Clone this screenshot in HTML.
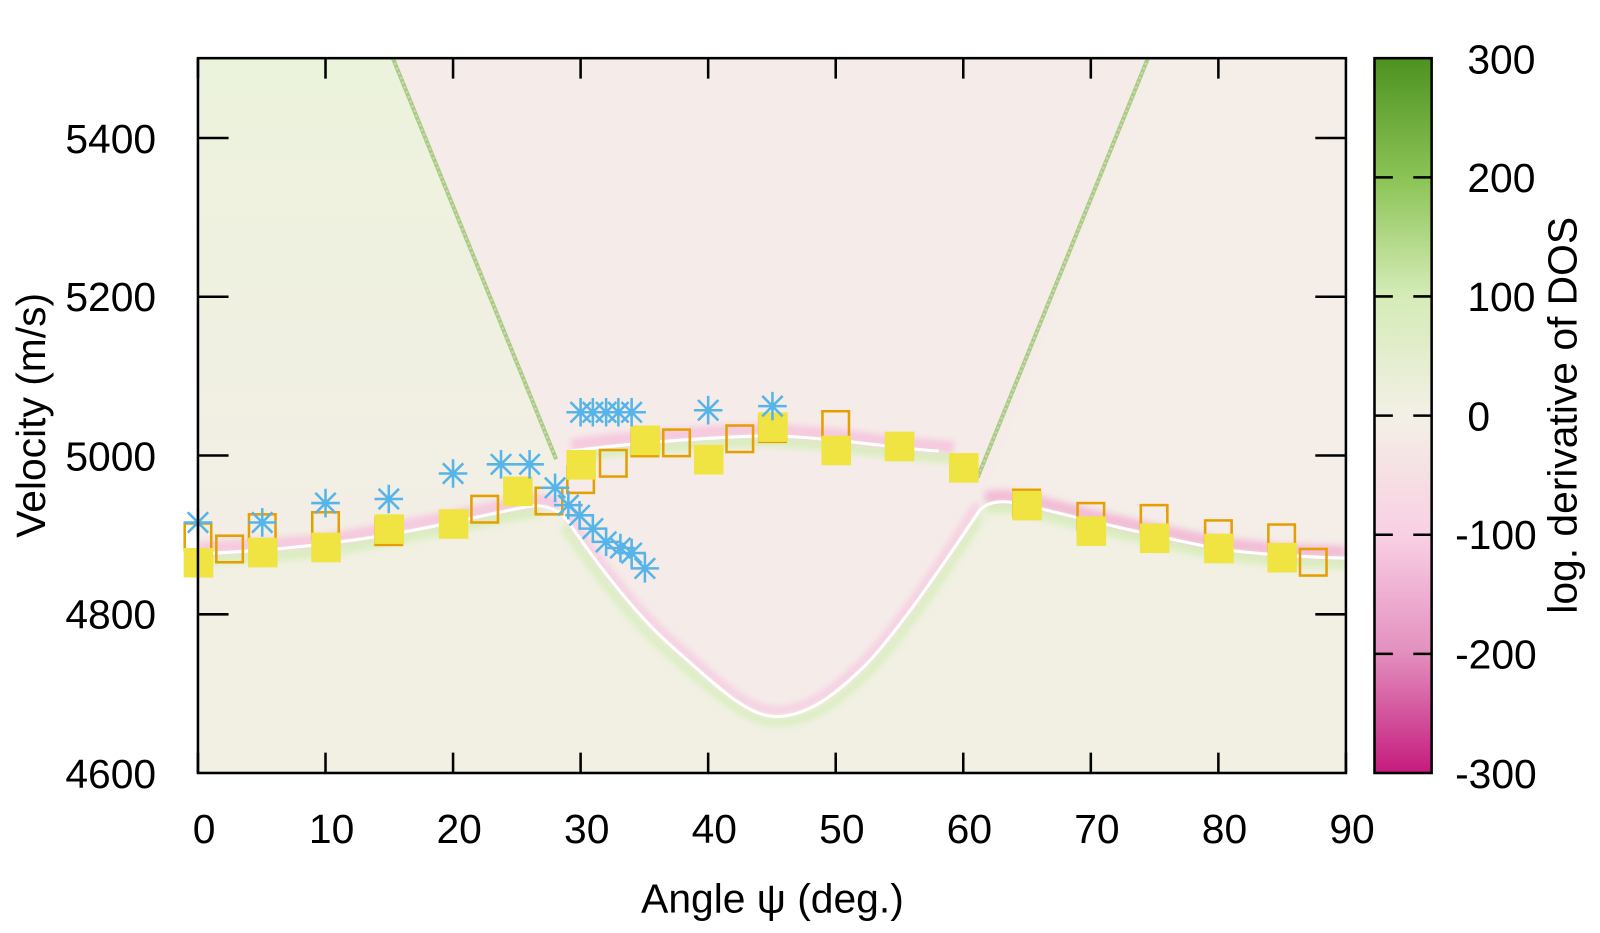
<!DOCTYPE html>
<html><head><meta charset="utf-8"><style>
html,body{margin:0;padding:0;background:#fff;}
svg{display:block;}
text{font-family:"Liberation Sans",Arial,sans-serif;fill:#000;}
</style></head><body>
<svg width="1600" height="933" viewBox="0 0 1568 914.3" preserveAspectRatio="none" xmlns="http://www.w3.org/2000/svg">
<defs>
<linearGradient id="cb" x1="0" y1="0" x2="0" y2="1">
<stop offset="0" stop-color="#4d9221"/>
<stop offset="0.17" stop-color="#8cc456"/>
<stop offset="0.33" stop-color="#d4ebb6"/>
<stop offset="0.5" stop-color="#f3f0e6"/>
<stop offset="0.67" stop-color="#f9cfe3"/>
<stop offset="0.83" stop-color="#e390bf"/>
<stop offset="1" stop-color="#c51b7d"/>
</linearGradient>
<linearGradient id="tl" x1="0" y1="0" x2="0" y2="1">
<stop offset="0" stop-color="#ecf3dc"/>
<stop offset="1" stop-color="#f3eee6"/>
</linearGradient>
<clipPath id="pc"><rect x="194" y="57" width="1125" height="700.5"/></clipPath>
<filter id="bl"><feGaussianBlur stdDeviation="3"/></filter>
</defs>
<g clip-path="url(#pc)">
<rect x="194" y="57" width="1125" height="700.5" fill="#f1f0e3"/>
<path d="M194,57 L385,57 L545,450 L530,496 L507,499 L444,512 L381,524 L319,535 L257,540 L194,543 Z" fill="url(#tl)"/>
<path d="M1125,57 L1319,57 L1319,547 L1256,545 L1194,538 L1131,525 L1069,511 L1006,495 L985,492 L960,500 Z" fill="#f4ede8"/>
<path d="M385,57 L1125,57 L960,500 C920,560 880,618 850,650 C820,680 790,704 757,702 C730,700 700,670 660,635 C620,600 580,545 556,510 L545,450 Z" fill="#f5ece9"/>
<g filter="url(#bl)">
<path d="M194,537 L257,534 L319,529 L381,518 L444,506 L507,493 L530,490 L548,494" stroke="#f6c8df" stroke-width="12" fill="none"/>
<path d="M194,549 L257,546 L319,541 L381,530 L444,518 L507,505 L530,502" stroke="#d8eebc" stroke-width="9" fill="none"/>
<path d="M560,436 L600,431 L650,427 L700,423 L757,421 L819,426 L881,434 L935,438" stroke="#f6c8df" stroke-width="12" fill="none"/>
<path d="M560,448 L600,443 L650,439 L700,435 L757,433 L819,438 L881,446 L935,450" stroke="#d8eebc" stroke-width="9" fill="none"/>
<path d="M965,487 L985,486 L1006,489 L1069,505 L1131,519 L1194,532 L1256,539 L1319,541" stroke="#f3bcd6" stroke-width="12" fill="none"/>
<path d="M965,499 L985,498 L1006,501 L1069,517 L1131,531 L1194,544 L1256,551 L1319,553" stroke="#d8eebc" stroke-width="9" fill="none"/>
<path d="M556,504 C580,539 620,594 660,629 C700,664 730,694 757,696 C790,698 820,674 850,644 C880,612 920,554 958,494" stroke="#f6cfe2" stroke-width="8" fill="none"/>
<path d="M552,516 C576,551 616,606 656,641 C696,676 730,706 757,708 C794,710 824,686 854,656 C884,624 924,566 962,506" stroke="#d8eebc" stroke-width="7" fill="none"/>
</g>
<path d="M194,543 C250,540 300,537 381,524 C440,514 480,503 520,496 C535,494 548,500 556,510 C580,545 620,600 660,635 C700,670 730,700 757,702 C790,704 820,680 850,650 C880,618 920,560 960,500 C970,490 985,490 1006,495 C1069,511 1131,525 1194,538 C1240,544 1280,546 1319,547" stroke="#fff" stroke-width="3" fill="none"/>
<path d="M560,442 C620,434 700,428 757,427 C819,429 881,440 920,442" stroke="#fff" stroke-width="3" fill="none"/>
<path d="M385,57 L545,450" stroke="#9fd27a" stroke-width="4" fill="none"/>
<path d="M385,57 L545,450" stroke="#f5c3dc" stroke-width="2" stroke-dasharray="2,3" fill="none"/>
<path d="M1125,57 L958,468" stroke="#9fd27a" stroke-width="4" fill="none"/>
<path d="M1125,57 L958,468" stroke="#f5c3dc" stroke-width="2" stroke-dasharray="2,3" fill="none"/>
</g>
<g fill="none" stroke="#e69f00" stroke-width="2.5">
<rect x="181" y="513" width="26" height="26"/>
<rect x="212" y="525" width="26" height="26"/>
<rect x="244" y="504" width="26" height="26"/>
<rect x="306" y="502" width="26" height="26"/>
<rect x="368" y="508" width="26" height="26"/>
<rect x="462" y="486" width="26" height="26"/>
<rect x="525" y="478" width="26" height="26"/>
<rect x="556" y="457" width="26" height="26"/>
<rect x="588" y="441" width="26" height="26"/>
<rect x="619" y="421" width="26" height="26"/>
<rect x="650" y="421" width="26" height="26"/>
<rect x="712" y="417" width="26" height="26"/>
<rect x="744" y="407" width="26" height="26"/>
<rect x="806" y="403" width="26" height="26"/>
<rect x="993" y="480" width="26" height="26"/>
<rect x="1056" y="493" width="26" height="26"/>
<rect x="1118" y="495" width="26" height="26"/>
<rect x="1181" y="510" width="26" height="26"/>
<rect x="1243" y="514" width="26" height="26"/>
<rect x="1274" y="538" width="26" height="26"/>
</g>
<g fill="#f0e442">
<rect x="180" y="537" width="29" height="29"/>
<rect x="243" y="527" width="29" height="29"/>
<rect x="305" y="522" width="29" height="29"/>
<rect x="367" y="504" width="29" height="29"/>
<rect x="430" y="499" width="29" height="29"/>
<rect x="493" y="467" width="29" height="29"/>
<rect x="555" y="441" width="29" height="29"/>
<rect x="618" y="417" width="29" height="29"/>
<rect x="680" y="436" width="29" height="29"/>
<rect x="743" y="404" width="29" height="29"/>
<rect x="805" y="427" width="29" height="29"/>
<rect x="867" y="423" width="29" height="29"/>
<rect x="930" y="444" width="29" height="29"/>
<rect x="992" y="481" width="29" height="29"/>
<rect x="1055" y="506" width="29" height="29"/>
<rect x="1117" y="513" width="29" height="29"/>
<rect x="1180" y="523" width="29" height="29"/>
<rect x="1242" y="532" width="29" height="29"/>
</g>
<defs><g id="ast" stroke="#56b4e9" stroke-width="2.5"><path d="M-14,0H14M0,-14V14M-10,-10L10,10M-10,10L10,-10"/></g></defs>
<g>
<use href="#ast" x="194" y="512"/><use href="#ast" x="257" y="512"/><use href="#ast" x="319" y="493"/>
<use href="#ast" x="381" y="489"/><use href="#ast" x="444" y="464"/><use href="#ast" x="491" y="455"/>
<use href="#ast" x="519" y="455"/><use href="#ast" x="544" y="478"/><use href="#ast" x="557" y="495"/>
<use href="#ast" x="568" y="505"/><use href="#ast" x="581" y="518"/><use href="#ast" x="594" y="531"/>
<use href="#ast" x="608" y="537"/><use href="#ast" x="619" y="542"/><use href="#ast" x="632" y="557"/>
<use href="#ast" x="569" y="404"/><use href="#ast" x="581" y="404"/><use href="#ast" x="594" y="404"/>
<use href="#ast" x="606" y="404"/><use href="#ast" x="619" y="404"/><use href="#ast" x="694" y="402"/>
<use href="#ast" x="757" y="398"/>
</g>
<rect x="194" y="57" width="1125" height="700.5" fill="none" stroke="#000" stroke-width="2.5"/>
<g stroke="#000" stroke-width="2.5">
<path d="M194,135.2h30M194,290.8h30M194,446.4h30M194,602h30M1319,135.2h-30M1319,290.8h-30M1319,446.4h-30M1319,602h-30"/>
<path d="M194,757.5v-20M319,757.5v-20M444,757.5v-20M569,757.5v-20M694,757.5v-20M819,757.5v-20M944,757.5v-20M1069,757.5v-20M1194,757.5v-20M1319,757.5v-20"/>
<path d="M194,57v20M319,57v20M444,57v20M569,57v20M694,57v20M819,57v20M944,57v20M1069,57v20M1194,57v20"/>
</g>
<g font-size="40" text-anchor="end">
<text x="153" y="150">5400</text>
<text x="153" y="305">5200</text>
<text x="153" y="461">5000</text>
<text x="153" y="616">4800</text>
<text x="153" y="772">4600</text>
</g>
<g font-size="40" text-anchor="middle">
<text x="200" y="826">0</text><text x="325" y="826">10</text><text x="450" y="826">20</text>
<text x="575" y="826">30</text><text x="700" y="826">40</text><text x="825" y="826">50</text>
<text x="950" y="826">60</text><text x="1075" y="826">70</text><text x="1200" y="826">80</text>
<text x="1325" y="826">90</text>
<text x="757" y="894">Angle ψ (deg.)</text>
<text transform="translate(44,407) rotate(-90)">Velocity (m/s)</text>
<text transform="translate(1545,407) rotate(-90)">log. derivative of DOS</text>
</g>
<rect x="1347" y="57" width="56" height="700.5" fill="url(#cb)" stroke="#000" stroke-width="2.5"/>
<g stroke="#000" stroke-width="2.5">
<path d="M1347,173.8h18M1403,173.8h-18M1347,290.5h18M1403,290.5h-18M1347,407.3h18M1403,407.3h-18M1347,524h18M1403,524h-18M1347,640.8h18M1403,640.8h-18"/>
</g>
<g font-size="40" text-anchor="start">
<text x="1438" y="72">300</text>
<text x="1438" y="188">200</text>
<text x="1438" y="305">100</text>
<text x="1438" y="422">0</text>
<text x="1426" y="538">-100</text>
<text x="1426" y="655">-200</text>
<text x="1426" y="772">-300</text>
</g>
</svg>
</body></html>
